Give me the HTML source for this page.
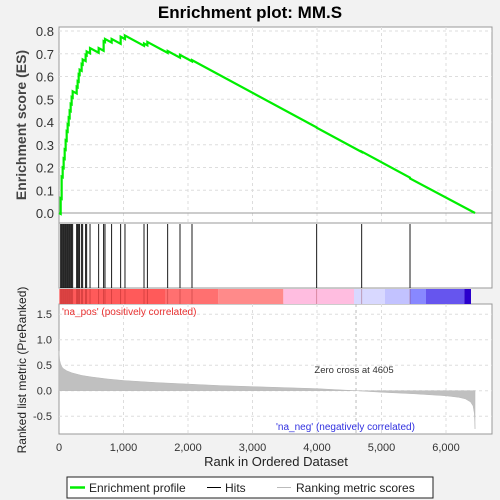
<!DOCTYPE html>
<html><head><meta charset="utf-8"><style>
body{margin:0;background:#f2f2f2;}
svg{display:block;font-family:"Liberation Sans","DejaVu Sans",sans-serif;}
</style></head><body>
<svg id="c" width="500" height="500">
<rect x="0" y="0" width="500" height="500" fill="#f2f2f2"/>
<text x="250" y="18" text-anchor="middle" font-size="17" font-weight="bold">Enrichment plot: MM.S</text>
<g id="g"></g>
</svg>
<script>
const hitRanks=[26,41,57,72,88,103,119,134,150,165,181,196,212,274,289,305,320,351,367,413,429,481,615,692,713,816,956,1023,1318,1370,1685,1876,2062,3995,4693,5442];
const esAfterHit=[0.065,0.16,0.20,0.24,0.28,0.32,0.36,0.39,0.42,0.45,0.48,0.51,0.535,0.555,0.58,0.61,0.63,0.655,0.675,0.695,0.71,0.725,0.725,0.755,0.765,0.765,0.775,0.78,0.745,0.752,0.712,0.695,0.672,0.375,0.27,0.152];
const metricRanks=[0,10,30,60,120,200,350,500,750,1000,1500,2000,2500,3000,3500,4000,4605,5000,5500,6000,6200,6300,6380,6420,6440,6450];
const metricVals=[0.78,0.6,0.5,0.44,0.39,0.35,0.3,0.27,0.23,0.2,0.16,0.13,0.1,0.08,0.06,0.04,0.0,-0.03,-0.06,-0.1,-0.13,-0.16,-0.22,-0.3,-0.45,-0.75];
const xTicks=[0,1000,2000,3000,4000,5000,6000];
const xTickLabels=["0","1,000","2,000","3,000","4,000","5,000","6,000"];
const esTicks=[0,0.1,0.2,0.3,0.4,0.5,0.6,0.7,0.8];
const mTicks=[-0.5,0,0.5,1.0,1.5];
const N=6450;
const X0=59,X1=492;
const xs=r=>59+r*0.0645;
const ye=v=>213-v*227.5;
const ym=v=>390.7-v*51;
const g=document.getElementById('g');
const NS='http://www.w3.org/2000/svg';
function mk(t,a,parent){const e=document.createElementNS(NS,t);for(const k in a)e.setAttribute(k,a[k]);(parent||g).appendChild(e);return e;}
// panels
let p=mk('rect',{x:X0,y:27,width:X1-X0,height:196,fill:'#fff',stroke:'#999'});

p=mk('rect',{x:X0,y:223,width:X1-X0,height:65,fill:'#fff',stroke:'#999'});

p=mk('rect',{x:X0,y:304,width:X1-X0,height:130,fill:'#fff',stroke:'#999'});

// grids
xTicks.forEach((t,i)=>{ if(i==0)return;
 mk('line',{x1:xs(t),x2:xs(t),y1:27,y2:223,stroke:'#ddd','stroke-dasharray':'3,3'});
 mk('line',{x1:xs(t),x2:xs(t),y1:304,y2:434,stroke:'#ddd','stroke-dasharray':'3,3'});});
esTicks.forEach(t=>{ if(t>0)mk('line',{x1:X0,x2:X1,y1:ye(t),y2:ye(t),stroke:'#ddd','stroke-dasharray':'3,3'});
 const tx=mk('text',{x:54,y:ye(t)+5,'text-anchor':'end','font-size':13,fill:'#333'});tx.textContent=t.toFixed(1);
 });
mk('line',{x1:X0,x2:X1,y1:ye(0),y2:ye(0),stroke:'#999'});
mTicks.forEach(t=>{ mk('line',{x1:X0,x2:X1,y1:ym(t),y2:ym(t),stroke:'#ddd','stroke-dasharray':'3,3'});
 const tx=mk('text',{x:52,y:ym(t)+4,'text-anchor':'end','font-size':11,fill:'#333'});tx.textContent=t.toFixed(1);
 });
// color bar
const segs=[[178,495,'#ff5a5a'],[495,655,'#ff7070'],[655,850,'#ff8a8a'],[850,1062,'#ffbde0'],[1062,1155,'#d8d8ff'],[1155,1230,'#c2c2ff'],[1230,1278,'#8888ff'],[1278,1393,'#6655ee'],[1393,1413,'#2a00cc']];
segs.forEach(s=>{const r=mk('rect',{x:s[0]/3,y:289,width:(s[1]-s[0])/3,height:15,fill:s[2]});
 });
// hits
hitRanks.forEach(r=>{const l=mk('line',{x1:xs(r),x2:xs(r),y1:224,y2:288,stroke:'#000','stroke-width':0.9});
 
 mk('line',{x1:xs(r),x2:xs(r),y1:289,y2:304,stroke:'rgba(120,0,0,0.35)','stroke-width':0.8});});
// metric area
let d='M'+xs(0)+','+ym(0);
metricRanks.forEach((r,i)=>{d+=' L'+xs(r)+','+ym(metricVals[i]);});
d+=' L'+xs(N)+','+ym(0)+' Z';
let a=mk('path',{d:d,fill:'#c0c0c0',stroke:'#b8b8b8','stroke-width':0.5});

mk('line',{x1:xs(4605),x2:xs(4605),y1:304,y2:434,stroke:'#bbb','stroke-dasharray':'3,3'});
// ES curve
const slope=0.672/(N-2062);
let pts=[[0,0]];let prevR=0,prevV=0;
hitRanks.forEach((r,i)=>{const before=prevV-(r-prevR)*slope;pts.push([r,before]);pts.push([r,esAfterHit[i]]);prevR=r;prevV=esAfterHit[i];});
pts.push([N,0]);
let es=mk('polyline',{points:pts.map(q=>xs(q[0])+','+ye(q[1])).join(' '),fill:'none',stroke:'#00ee00','stroke-width':2.2});

// x ticks
xTicks.forEach((t,i)=>{const tx=mk('text',{x:xs(t),y:451,'text-anchor':'middle','font-size':11,fill:'#333'});tx.textContent=xTickLabels[i];
 });
function txt(s,attrs,name){const t=mk('text',attrs);t.textContent=s;return t;}
txt('Rank in Ordered Dataset',{x:276,y:466,'text-anchor':'middle','font-size':13,fill:'#222'},'x-axis-title');
txt('Enrichment score (ES)',{x:26,y:125,'text-anchor':'middle','font-size':14,'font-weight':'bold',fill:'#444',transform:'rotate(-90 26 125)'},'es-axis-title');
txt('Ranked list metric (PreRanked)',{x:26,y:370,'text-anchor':'middle','font-size':12,fill:'#222',transform:'rotate(-90 26 370)'},'metric-axis-title');
txt("'na_pos' (positively correlated)",{x:62,y:315,'font-size':10,fill:'#e83030'},'na-pos-label');
txt("'na_neg' (negatively correlated)",{x:276,y:430,'font-size':10,fill:'#3030e0'},'na-neg-label');
txt('Zero cross at 4605',{x:354,y:373,'text-anchor':'middle','font-size':9.5,fill:'#333'},'zero-cross-label');
// legend
let lg=mk('rect',{x:67,y:477,width:366,height:21,fill:'#fff',stroke:'#222'});

mk('line',{x1:70,x2:85,y1:487.5,y2:487.5,stroke:'#00ee00','stroke-width':2.5});
txt('Enrichment profile',{x:89,y:492,'font-size':12,fill:'#222'},'legend-entry-enrichment');
mk('line',{x1:207,x2:221,y1:487.5,y2:487.5,stroke:'#000'});
txt('Hits',{x:225,y:492,'font-size':12,fill:'#222'},'legend-entry-hits');
mk('line',{x1:277,x2:291,y1:487.5,y2:487.5,stroke:'#bbb'});
txt('Ranking metric scores',{x:296,y:492,'font-size':12,fill:'#222'},'legend-entry-metric');
</script>
</body></html>
